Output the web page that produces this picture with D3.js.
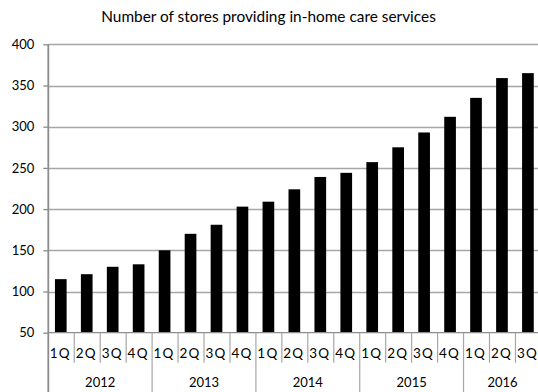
<!DOCTYPE html>
<html>
<head>
<meta charset="utf-8">
<script src="https://cdn.jsdelivr.net/npm/d3@7/dist/d3.min.js"></script>
<style>
  html, body { margin: 0; padding: 0; background: #fff; }
  svg { display: block; }
</style>
</head>
<body>
<div id="chart"></div>
<script>
const title = "Number of stores providing in-home care services";
const years = ["2012", "2013", "2014", "2015", "2016"];
const quarters = ["1Q","2Q","3Q","4Q","1Q","2Q","3Q","4Q","1Q","2Q","3Q","4Q","1Q","2Q","3Q","4Q","1Q","2Q","3Q"];
const yearOf = ["2012","2012","2012","2012","2013","2013","2013","2013","2014","2014","2014","2014","2015","2015","2015","2015","2016","2016","2016"];
const values = [115, 121, 130, 133, 150, 170, 181, 203, 209, 224, 239, 244, 257, 275, 293, 312, 335, 359, 365];
const yTicks = [50, 100, 150, 200, 250, 300, 350, 400];

(function () {
const W = 538, H = 392;
const pL = 48.3, pR = 541.4, pT = 44.3, pB = 332.7;
const font = "Lato, 'Open Sans', sans-serif";

const svg = d3.select("#chart").append("svg").attr("width", W).attr("height", H);

const ids = d3.range(values.length);
const x = d3.scaleBand().domain(ids).range([pL, pR]).padding(0);
const y = d3.scaleLinear().domain([50, 400]).range([pB, pT]);

// title
svg.append("text")
  .attr("x", 268.5).attr("y", 22)
  .attr("text-anchor", "middle")
  .attr("font-family", font).attr("font-size", 15.4)
  .attr("fill", "#000")
  .text(title);

// gridlines
svg.append("g").selectAll("line").data(yTicks.filter(d => d > 50)).join("line")
  .attr("x1", pL).attr("x2", W)
  .attr("y1", d => Math.round(y(d)) + 0.5).attr("y2", d => Math.round(y(d)) + 0.5)
  .attr("stroke", "#a6a6a6").attr("stroke-width", 1.3);

// y axis
const yAxis = d3.axisLeft(y).tickValues(yTicks).tickSize(5).tickPadding(9);
const gy = svg.append("g").attr("transform", `translate(${pL},0)`).call(yAxis);
gy.select(".domain").remove();
gy.selectAll(".tick line").attr("stroke", "#8c8c8c").attr("stroke-width", 1.3);
gy.selectAll(".tick text").attr("font-family", font).attr("font-size", 13).attr("fill", "#000");
svg.append("line").attr("x1", pL).attr("x2", pL).attr("y1", pT).attr("y2", H)
  .attr("stroke", "#8c8c8c").attr("stroke-width", 1.8);

// bars
const bw = x.bandwidth() * 0.45;
svg.append("g").selectAll("rect").data(values).join("rect")
  .attr("x", (d, i) => x(i) + x.bandwidth() / 2 - bw / 2 - 0.5)
  .attr("y", d => y(d))
  .attr("width", bw)
  .attr("height", d => y(50) - y(d))
  .attr("fill", "#000");

// x axis baseline
svg.append("line").attr("x1", pL).attr("x2", W).attr("y1", pB).attr("y2", pB)
  .attr("stroke", "#8c8c8c").attr("stroke-width", 1.3);

// category separators
const gx = svg.append("g");
ids.forEach(i => {
  const xx = x(i);
  if (i === 0) return;
  const isYear = yearOf[i] !== yearOf[i - 1];
  gx.append("line").attr("x1", xx).attr("x2", xx)
    .attr("y1", pB).attr("y2", isYear ? H : pB + 30)
    .attr("stroke", "#a6a6a6").attr("stroke-width", 1.2);
});

// quarter labels
svg.append("g").selectAll("text").data(quarters).join("text")
  .attr("x", (d, i) => x(i) + x.bandwidth() / 2 - 1)
  .attr("y", 358)
  .attr("text-anchor", "middle")
  .attr("font-family", font).attr("font-size", 13.5)
  .attr("letter-spacing", 1.2)
  .attr("fill", "#000")
  .text(d => d);

// year labels
years.forEach(yr => {
  const idx = ids.filter(i => yearOf[i] === yr);
  const x0 = x(idx[0]), x1 = x(idx[idx.length - 1]) + x.bandwidth();
  svg.append("text")
    .attr("x", Math.min((x0 + x1) / 2, 503))
    .attr("y", 387)
    .attr("text-anchor", "middle")
    .attr("font-family", font).attr("font-size", 13)
    .attr("fill", "#000")
    .text(yr);
});
})();
</script>
</body>
</html>
